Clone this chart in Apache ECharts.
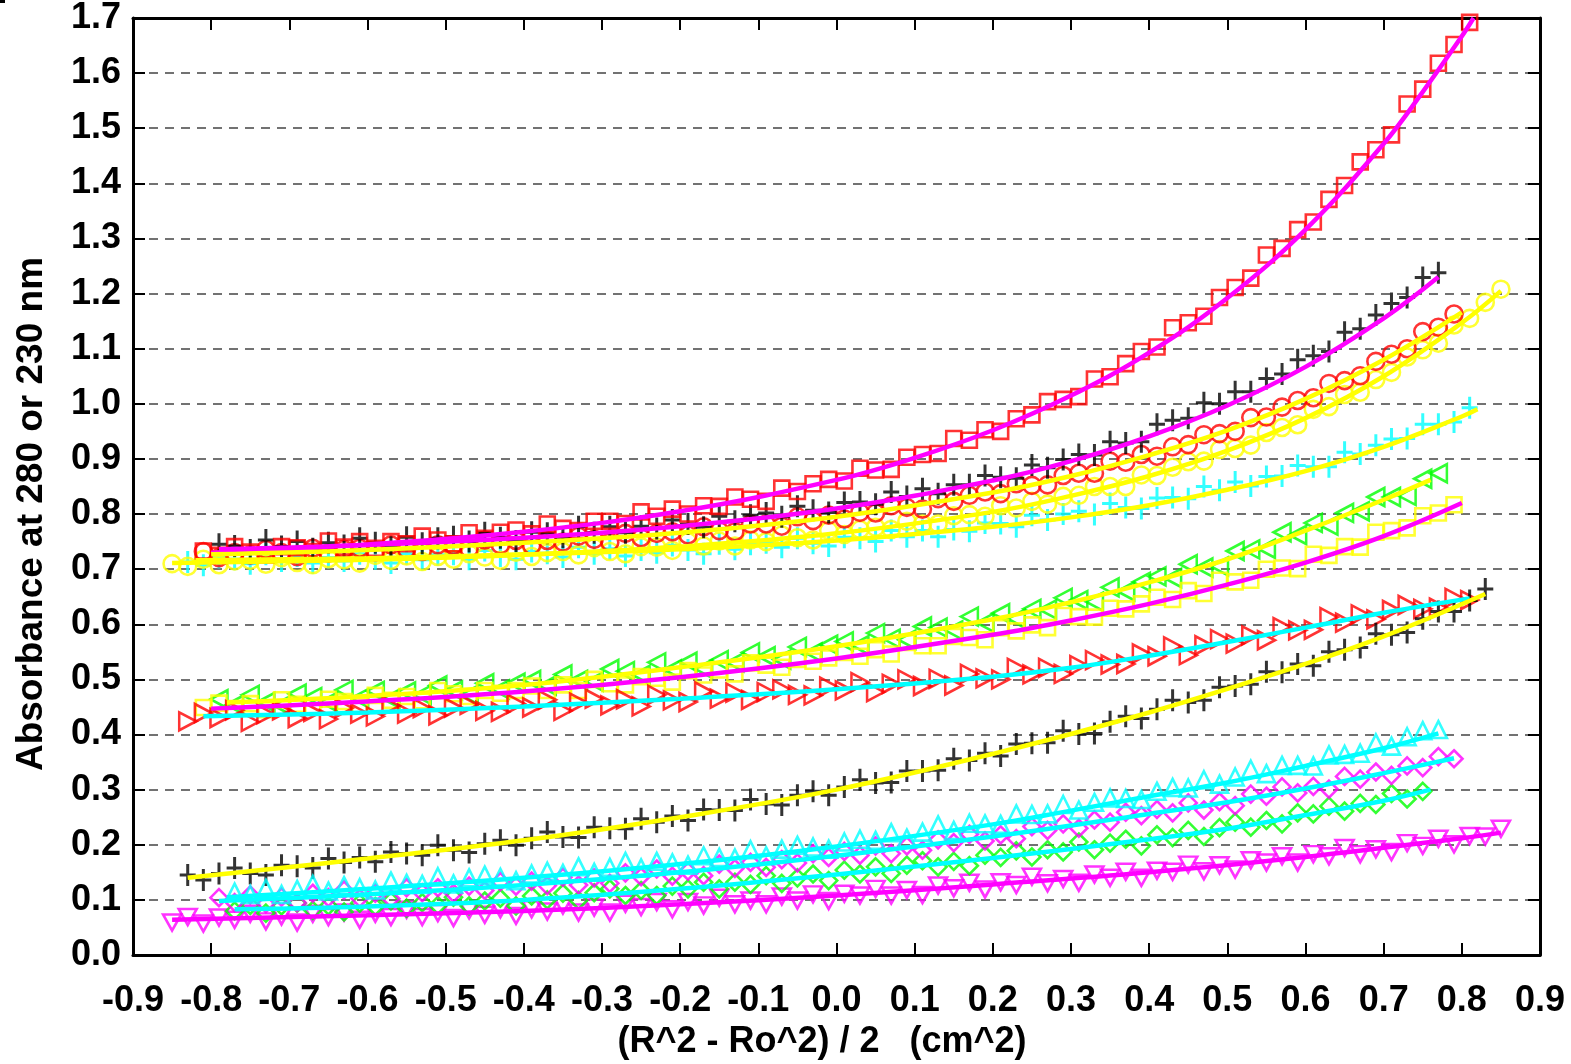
<!DOCTYPE html>
<html>
<head>
<meta charset="utf-8">
<script src="https://cdn.jsdelivr.net/npm/echarts@6/dist/echarts.min.js"></script>
<style>html,body{margin:0;padding:0;background:#fff;}#chart{width:1571px;height:1064px;}</style>
</head>
<body>
<div id="chart"></div>
<script>
// shared radial-position grid, (R^2 - Ro^2)/2 in cm^2
const xGrid = [-0.85,-0.83,-0.81,-0.79,-0.77,-0.75,-0.73,-0.71,-0.69,-0.67,-0.65,-0.63,-0.61,-0.59,-0.57,-0.55,-0.53,-0.51,-0.49,-0.47,-0.45,-0.43,-0.41,-0.39,-0.37,-0.35,-0.33,-0.31,-0.29,-0.27,-0.25,-0.23,-0.21,-0.19,-0.17,-0.15,-0.13,-0.11,-0.09,-0.07,-0.05,-0.03,-0.01,
0.01,0.03,0.05,0.07,0.09,0.11,0.13,0.15,0.17,0.19,0.21,0.23,0.25,0.27,0.29,0.31,0.33,0.35,0.37,0.39,0.41,0.43,0.45,0.47,0.49,0.51,0.53,0.55,0.57,0.59,0.61,0.63,0.65,0.67,0.69,0.71,0.73,0.75,0.77,0.79,0.81,0.83,0.85];

// ---- upper group ----
const redSquaresFirst = 2;
const redSquaresY = [0.733,0.725,0.741,0.731,0.726,0.741,0.739,0.732,0.751,0.740,
0.750,0.738,0.750,0.746,0.760,0.753,0.746,0.766,0.756,0.767,
0.771,0.764,0.782,0.774,0.770,0.787,0.787,0.783,0.804,0.796,
0.809,0.800,0.815,0.814,0.831,0.827,0.823,0.847,0.841,0.855,
0.863,0.860,0.883,0.880,0.881,0.903,0.908,0.910,0.937,0.934,
0.953,0.950,0.973,0.980,1.004,1.008,1.013,1.045,1.049,1.073,
1.095,1.103,1.138,1.147,1.159,1.193,1.211,1.228,1.270,1.282,
1.316,1.330,1.371,1.396,1.439,1.461,1.488,1.544,1.571,1.618,
1.652,1.692];
const redSquaresFitX = [-0.8,-0.6,-0.4,-0.2,0,0.1,0.2,0.3,0.4,0.5,0.6,0.7,0.75,0.8,0.815];
const redSquaresFitY = [0.730,0.745,0.768,0.805,0.862,0.902,0.952,1.015,1.093,1.192,1.316,1.472,1.566,1.667,1.700];

const blackUpperFirst = 3;
const blackUpperY = [0.745,0.742,0.735,0.753,0.741,0.750,0.737,0.748,0.743,0.756,
0.748,0.740,0.758,0.747,0.756,0.759,0.750,0.766,0.757,0.751,
0.767,0.765,0.758,0.777,0.766,0.777,0.766,0.778,0.774,0.789,
0.782,0.776,0.796,0.787,0.798,0.802,0.795,0.814,0.807,0.803,
0.821,0.822,0.818,0.840,0.832,0.846,0.837,0.853,0.853,0.870,
0.867,0.865,0.889,0.884,0.899,0.908,0.907,0.931,0.929,0.931,
0.963,0.970,0.974,1.002,1.000,1.022,1.022,1.046,1.054,1.080,
1.087,1.095,1.130,1.136,1.161,1.182,1.193,1.229,1.238];
const blackUpperFitX = [-0.79,-0.6,-0.4,-0.2,0,0.2,0.3,0.4,0.5,0.6,0.7,0.77];
const blackUpperFitY = [0.736,0.744,0.757,0.778,0.810,0.861,0.896,0.941,0.997,1.067,1.155,1.230];

const redCirclesFirst = 2;
const redCirclesY = [0.732,0.721,0.730,0.726,0.736,0.730,0.723,0.738,0.729,0.736,
0.738,0.731,0.744,0.736,0.732,0.744,0.743,0.737,0.753,0.744,
0.752,0.743,0.752,0.749,0.760,0.754,0.749,0.765,0.757,0.765,
0.768,0.762,0.777,0.770,0.768,0.782,0.782,0.778,0.795,0.788,
0.798,0.791,0.803,0.802,0.815,0.812,0.809,0.828,0.823,0.834,
0.840,0.837,0.855,0.852,0.853,0.870,0.874,0.874,0.896,0.894,
0.908,0.905,0.922,0.926,0.944,0.946,0.950,0.975,0.976,0.994,
1.006,1.011,1.037,1.042,1.051,1.077,1.090,1.100,1.131,1.139,
1.163];
const redCirclesFitX = [-0.8,-0.6,-0.4,-0.2,0,0.2,0.3,0.4,0.5,0.6,0.7,0.8];
const redCirclesFitY = [0.727,0.735,0.748,0.766,0.795,0.839,0.869,0.907,0.952,1.009,1.080,1.166];

const yellowCirclesFirst = 0;
const yellowCirclesY = [0.710,0.705,0.718,0.708,0.715,0.716,0.709,0.721,0.712,0.708,
0.719,0.717,0.711,0.725,0.716,0.724,0.714,0.723,0.718,0.728,
0.722,0.716,0.731,0.723,0.730,0.732,0.726,0.739,0.732,0.728,
0.741,0.740,0.734,0.750,0.742,0.751,0.742,0.753,0.750,0.762,
0.757,0.753,0.770,0.763,0.772,0.776,0.772,0.787,0.782,0.782,
0.797,0.799,0.796,0.815,0.811,0.823,0.818,0.832,0.834,0.850,
0.850,0.850,0.871,0.870,0.885,0.895,0.896,0.917,0.919,0.925,
0.948,0.957,0.962,0.990,0.995,1.017,1.021,1.044,1.057,1.085,
1.098,1.110,1.143,1.155,1.184,1.208];
const yellowCirclesFitX = [-0.85,-0.6,-0.4,-0.2,0,0.2,0.3,0.4,0.5,0.6,0.7,0.8,0.85];
const yellowCirclesFitY = [0.711,0.717,0.726,0.741,0.765,0.804,0.833,0.869,0.915,0.974,1.050,1.147,1.205];

const cyanPlusFirst = 1;
const cyanPlusY = [0.713,0.707,0.721,0.718,0.710,0.727,0.715,0.724,0.711,0.721,
0.715,0.728,0.719,0.711,0.728,0.717,0.726,0.727,0.718,0.734,
0.724,0.718,0.732,0.729,0.722,0.740,0.728,0.737,0.724,0.735,
0.730,0.743,0.735,0.728,0.746,0.736,0.745,0.748,0.740,0.756,
0.747,0.742,0.758,0.756,0.750,0.770,0.759,0.770,0.759,0.772,
0.769,0.784,0.783,0.777,0.798,0.789,0.800,0.805,0.799,0.819,
0.812,0.810,0.829,0.830,0.828,0.850,0.843,0.858,0.851,0.868,
0.869,0.888,0.886,0.886,0.912,0.909,0.925,0.936,0.937,0.963,
0.963,0.967,0.993];
const cyanPlusFitX = [-0.82,-0.6,-0.4,-0.2,0,0.2,0.3,0.4,0.5,0.6,0.7,0.8,0.82];
const cyanPlusFitY = [0.716,0.720,0.727,0.736,0.752,0.777,0.794,0.816,0.844,0.878,0.922,0.977,0.990];

// ---- middle group ----
const greenLeftTriFirst = 3;
const greenLeftTriY = [0.464,0.454,0.472,0.459,0.453,0.474,0.468,0.459,0.481,0.466,
0.479,0.465,0.478,0.472,0.489,0.480,0.472,0.493,0.482,0.494,
0.499,0.489,0.509,0.499,0.496,0.519,0.515,0.508,0.531,0.518,
0.532,0.519,0.535,0.531,0.549,0.542,0.536,0.559,0.549,0.563,
0.569,0.562,0.584,0.574,0.572,0.596,0.594,0.589,0.614,0.603,
0.620,0.610,0.628,0.627,0.648,0.644,0.641,0.667,0.660,0.677,
0.687,0.684,0.709,0.703,0.705,0.733,0.736,0.737,0.767,0.762,
0.784,0.779,0.802,0.805,0.831,0.831,0.833,0.864,0.874];
const greenLeftTriFitX = [-0.78,-0.6,-0.4,-0.2,0,0.2,0.3,0.4,0.5,0.6,0.7,0.76];
const greenLeftTriFitY = [0.458,0.470,0.490,0.522,0.560,0.609,0.640,0.676,0.718,0.770,0.826,0.862];

const yellowSquaresFirst = 2;
const yellowSquaresY = [0.449,0.457,0.447,0.456,0.445,0.463,0.455,0.451,0.464,0.460,
0.452,0.471,0.462,0.469,0.461,0.480,0.474,0.469,0.480,0.475,
0.480,0.488,0.480,0.490,0.480,0.500,0.492,0.490,0.505,0.502,
0.495,0.516,0.508,0.517,0.510,0.530,0.526,0.522,0.536,0.533,
0.539,0.549,0.542,0.554,0.546,0.567,0.561,0.561,0.578,0.576,
0.572,0.594,0.588,0.599,0.594,0.616,0.614,0.613,0.629,0.628,
0.637,0.649,0.645,0.661,0.656,0.680,0.677,0.680,0.700,0.702,
0.701,0.727,0.725,0.741,0.740,0.767,0.770,0.775,0.797,0.802,
0.817];
const yellowSquaresFitX = [-0.8,-0.6,-0.4,-0.2,0,0.2,0.3,0.4,0.5,0.6,0.7,0.8];
const yellowSquaresFitY = [0.447,0.460,0.478,0.504,0.538,0.581,0.607,0.637,0.672,0.712,0.760,0.820];

const redRightTriFirst = 1;
const redRightTriY = [0.424,0.439,0.430,0.444,0.423,0.437,0.444,0.430,0.441,0.428,
0.448,0.438,0.433,0.452,0.438,0.448,0.435,0.449,0.454,0.443,
0.441,0.456,0.449,0.463,0.443,0.458,0.465,0.453,0.464,0.451,
0.472,0.462,0.459,0.478,0.465,0.476,0.463,0.477,0.482,0.472,
0.471,0.487,0.480,0.495,0.477,0.492,0.500,0.488,0.501,0.489,
0.510,0.502,0.500,0.521,0.509,0.521,0.510,0.526,0.535,0.527,
0.528,0.547,0.542,0.560,0.544,0.562,0.573,0.565,0.580,0.571,
0.595,0.589,0.590,0.613,0.603,0.618,0.609,0.626,0.635,0.628,
0.630,0.648,0.644];
const redRightTriFitX = [-0.81,-0.6,-0.4,-0.2,0,0.2,0.3,0.4,0.5,0.6,0.7,0.81];
const redRightTriFitY = [0.433,0.440,0.451,0.465,0.482,0.505,0.521,0.543,0.568,0.594,0.621,0.647];

const blackLowerFirst = 1;
const blackLowerY = [0.145,0.136,0.148,0.158,0.148,0.145,0.163,0.161,0.158,0.175,
0.168,0.177,0.169,0.187,0.184,0.181,0.199,0.190,0.186,0.202,
0.208,0.199,0.212,0.223,0.214,0.213,0.232,0.230,0.229,0.247,
0.241,0.252,0.244,0.264,0.263,0.262,0.282,0.274,0.272,0.290,
0.297,0.290,0.305,0.318,0.312,0.313,0.334,0.334,0.335,0.356,
0.353,0.366,0.361,0.383,0.384,0.385,0.407,0.401,0.402,0.423,
0.433,0.429,0.446,0.462,0.458,0.462,0.486,0.488,0.491,0.514,
0.513,0.528,0.525,0.550,0.554,0.558,0.583,0.581,0.585,0.610,
0.623,0.623,0.643,0.664];
const blackLowerFitX = [-0.83,-0.6,-0.4,-0.2,0,0.2,0.4,0.6,0.7,0.83];
const blackLowerFitY = [0.140,0.175,0.208,0.250,0.300,0.365,0.440,0.528,0.578,0.655];

// ---- lower group ----
const cyanUpTriFirst = 4;
const cyanUpTriY = [0.114,0.110,0.121,0.110,0.119,0.128,0.116,0.126,0.122,0.118,
0.134,0.130,0.128,0.142,0.129,0.140,0.145,0.141,0.135,0.147,
0.152,0.148,0.160,0.150,0.159,0.170,0.158,0.170,0.167,0.163,
0.180,0.177,0.176,0.191,0.180,0.192,0.199,0.196,0.192,0.205,
0.210,0.208,0.222,0.212,0.223,0.236,0.226,0.239,0.238,0.237,
0.256,0.255,0.256,0.273,0.263,0.277,0.285,0.284,0.282,0.297,
0.304,0.303,0.318,0.310,0.323,0.337,0.329,0.344,0.344,0.343,
0.363,0.364,0.366,0.385,0.379,0.396,0.407,0.409];
const cyanUpTriFitX = [-0.78,-0.6,-0.4,-0.2,0,0.2,0.3,0.4,0.5,0.6,0.7,0.77];
const cyanUpTriFitY = [0.105,0.120,0.140,0.165,0.197,0.237,0.262,0.288,0.313,0.343,0.375,0.402];

const magentaDiamondFirst = 3;
const magentaDiamondY = [0.104,0.095,0.109,0.093,0.105,0.095,0.112,0.104,0.118,0.103,
0.112,0.102,0.122,0.113,0.122,0.112,0.125,0.117,0.133,0.125,
0.134,0.126,0.141,0.127,0.140,0.130,0.149,0.142,0.156,0.143,
0.152,0.144,0.165,0.157,0.168,0.159,0.173,0.167,0.184,0.177,
0.188,0.181,0.198,0.184,0.198,0.190,0.209,0.204,0.219,0.207,
0.218,0.211,0.233,0.226,0.238,0.230,0.245,0.241,0.259,0.253,
0.264,0.258,0.276,0.263,0.278,0.271,0.292,0.288,0.305,0.294,
0.306,0.301,0.324,0.319,0.332,0.326,0.343,0.340,0.360,0.356];
const magentaDiamondFitX = [-0.79,-0.6,-0.4,-0.2,0,0.2,0.4,0.5,0.6,0.7,0.79];
const magentaDiamondFitY = [0.098,0.110,0.127,0.150,0.180,0.215,0.256,0.277,0.302,0.330,0.357];

const greenDiamondFirst = 4;
const greenDiamondY = [0.080,0.090,0.076,0.089,0.094,0.081,0.089,0.078,0.094,0.088,
0.098,0.085,0.095,0.090,0.105,0.089,0.098,0.103,0.089,0.107,
0.100,0.112,0.099,0.113,0.120,0.108,0.117,0.108,0.125,0.120,
0.132,0.120,0.132,0.128,0.144,0.130,0.140,0.147,0.135,0.154,
0.147,0.160,0.148,0.163,0.171,0.160,0.170,0.162,0.181,0.177,
0.189,0.178,0.191,0.187,0.205,0.191,0.203,0.210,0.198,0.218,
0.213,0.226,0.215,0.231,0.241,0.232,0.244,0.238,0.258,0.256,
0.270,0.261,0.275,0.273,0.293,0.283,0.297];
const greenDiamondFitX = [-0.77,-0.6,-0.4,-0.2,0,0.2,0.4,0.5,0.6,0.7,0.76];
const greenDiamondFitY = [0.083,0.088,0.100,0.120,0.146,0.176,0.210,0.229,0.254,0.280,0.300];

const magentaDownTriFirst = 0;
const magentaDownTriY = [0.059,0.069,0.057,0.068,0.064,0.075,0.061,0.070,0.059,0.075,
0.069,0.077,0.064,0.075,0.069,0.082,0.069,0.076,0.067,0.081,
0.073,0.083,0.071,0.083,0.079,0.090,0.077,0.086,0.077,0.093,
0.087,0.096,0.083,0.096,0.090,0.104,0.092,0.099,0.092,0.106,
0.099,0.110,0.098,0.111,0.108,0.120,0.108,0.118,0.109,0.126,
0.121,0.131,0.119,0.132,0.127,0.142,0.130,0.138,0.131,0.146,
0.140,0.151,0.140,0.153,0.151,0.164,0.152,0.163,0.155,0.172,
0.168,0.179,0.168,0.183,0.179,0.194,0.183,0.192,0.187,0.203,
0.198,0.211,0.201,0.216,0.215,0.229];
const magentaDownTriFitX = [-0.85,-0.6,-0.4,-0.2,0,0.2,0.4,0.6,0.8,0.85];
const magentaDownTriFitY = [0.064,0.072,0.080,0.092,0.108,0.128,0.150,0.178,0.212,0.222];

// ---- styling ----
const RED = '#ff0000', BLACK = '#000000', YELLOW = '#ffff00', CYAN = '#00ffff', GREEN = '#00ff00', MAGENTA = '#ff00ff';
// filled cross outline (16 x 22 units, arm thickness 3)
const PLUS = 'path://M6.5,0H9.5V9.5H16V12.5H9.5V22H6.5V12.5H0V9.5H6.5Z';
const TRI_LEFT = 'path://M0,5L9,0L9,10Z';
const TRI_RIGHT = 'path://M9,5L0,0L0,10Z';
const TRI_DOWN = 'path://M0,0L10,0L5,9Z';

const markerDefs = [
  {first: cyanPlusFirst, y: cyanPlusY, symbol: PLUS, size: [16,22], color: CYAN, solid: true},
  {first: yellowCirclesFirst, y: yellowCirclesY, symbol: 'circle', size: 17, color: YELLOW},
  {first: redCirclesFirst, y: redCirclesY, symbol: 'circle', size: 17, color: RED},
  {first: blackUpperFirst, y: blackUpperY, symbol: PLUS, size: [16,22], color: BLACK, solid: true},
  {first: redSquaresFirst, y: redSquaresY, symbol: 'rect', size: 15, color: RED},
  {first: greenLeftTriFirst, y: greenLeftTriY, symbol: TRI_LEFT, size: [17,18], color: GREEN},
  {first: yellowSquaresFirst, y: yellowSquaresY, symbol: 'rect', size: 15, color: YELLOW},
  {first: redRightTriFirst, y: redRightTriY, symbol: TRI_RIGHT, size: [17,18], color: RED},
  {first: blackLowerFirst, y: blackLowerY, symbol: PLUS, size: [16,22], color: BLACK, solid: true},
  {first: magentaDownTriFirst, y: magentaDownTriY, symbol: TRI_DOWN, size: [18,16], color: MAGENTA},
  {first: greenDiamondFirst, y: greenDiamondY, symbol: 'diamond', size: 17, color: GREEN},
  {first: magentaDiamondFirst, y: magentaDiamondY, symbol: 'diamond', size: 17, color: MAGENTA},
  {first: cyanUpTriFirst, y: cyanUpTriY, symbol: 'triangle', size: 17, color: CYAN}
];

const fitDefs = [
  {x: redSquaresFitX, y: redSquaresFitY, color: MAGENTA},
  {x: blackUpperFitX, y: blackUpperFitY, color: MAGENTA},
  {x: yellowCirclesFitX, y: yellowCirclesFitY, color: YELLOW},
  {x: redCirclesFitX, y: redCirclesFitY, color: YELLOW},
  {x: cyanPlusFitX, y: cyanPlusFitY, color: YELLOW},
  {x: greenLeftTriFitX, y: greenLeftTriFitY, color: YELLOW},
  {x: yellowSquaresFitX, y: yellowSquaresFitY, color: MAGENTA},
  {x: redRightTriFitX, y: redRightTriFitY, color: CYAN},
  {x: blackLowerFitX, y: blackLowerFitY, color: YELLOW},
  {x: magentaDownTriFitX, y: magentaDownTriFitY, color: MAGENTA},
  {x: greenDiamondFitX, y: greenDiamondFitY, color: CYAN},
  {x: magentaDiamondFitX, y: magentaDiamondFitY, color: CYAN},
  {x: cyanUpTriFitX, y: cyanUpTriFitY, color: CYAN}
];

const FONT = '"Liberation Sans", Arial, Helvetica, sans-serif';
const fmt = v => (Math.abs(v) < 1e-9 ? '0.0' : v.toFixed(1));

const series = [];
markerDefs.forEach((d, k) => {
  series.push({
    type: 'scatter',
    data: d.y.map((v, i) => [xGrid[d.first + i], v]),
    symbol: d.symbol,
    symbolSize: d.size,
    itemStyle: d.solid
      ? {color: d.color, borderWidth: 0}
      : {color: 'rgba(0,0,0,0)', borderColor: d.color, borderWidth: 2.6},
    z: 2 + k * 0.01,
    silent: true,
    emphasis: {disabled: true}
  });
});
fitDefs.forEach(d => {
  series.push({
    type: 'line',
    data: d.x.map((v, i) => [v, d.y[i]]),
    showSymbol: false,
    smooth: 0.4,
    lineStyle: {color: d.color, width: 4.5},
    z: 5,
    silent: true,
    emphasis: {disabled: true}
  });
});

const axisLine = {show: true, onZero: false, lineStyle: {color: '#000', width: 3}};
const tick = {show: true, inside: true, length: 12, lineStyle: {color: '#000', width: 2}};

const option = {
  animation: false,
  backgroundColor: '#fff',
  grid: {left: 133, right: 31, top: 15, bottom: 109, containLabel: false},
  xAxis: [
    {type: 'value', position: 'bottom', min: -0.9, max: 0.9, interval: 0.1,
     axisLine, axisTick: tick,
     axisLabel: {formatter: fmt, fontSize: 36, fontWeight: 'bold', fontFamily: FONT, color: '#000', margin: 28},
     splitLine: {show: false}},
    {type: 'value', position: 'top', min: -0.9, max: 0.9, interval: 0.1,
     axisLine, axisTick: tick, axisLabel: {show: false}, splitLine: {show: false}}
  ],
  yAxis: [
    {type: 'value', position: 'left', min: 0, max: 1.7, interval: 0.1,
     axisLine, axisTick: tick,
     axisLabel: {formatter: fmt, fontSize: 36, fontWeight: 'bold', fontFamily: FONT, color: '#000', margin: 12},
     splitLine: {show: true, lineStyle: {color: '#444', width: 1.5, type: [9, 7]}}},
    {type: 'value', position: 'right', min: 0, max: 1.7, interval: 0.1,
     axisLine, axisTick: tick, axisLabel: {show: false}, splitLine: {show: false}}
  ],
  graphic: [
    {type: 'text', x: 822, y: 1042, silent: true,
     style: {text: '(R^2 - Ro^2) / 2   (cm^2)', fill: '#000', font: 'bold 36px ' + FONT, textAlign: 'center', textVerticalAlign: 'middle'}},
    {type: 'text', x: 32, y: 514, rotation: Math.PI / 2, silent: true,
     style: {text: 'Absorbance at 280 or 230 nm', fill: '#000', font: 'bold 37px ' + FONT, textAlign: 'center', textVerticalAlign: 'middle'}},
    {type: 'rect', shape: {x: 0, y: 0, width: 5, height: 3}, style: {fill: '#000'}, silent: true}
  ],
  series
};

const chart = echarts.init(document.getElementById('chart'), null, {renderer: 'canvas'});
chart.setOption(option);
</script>
</body>
</html>
